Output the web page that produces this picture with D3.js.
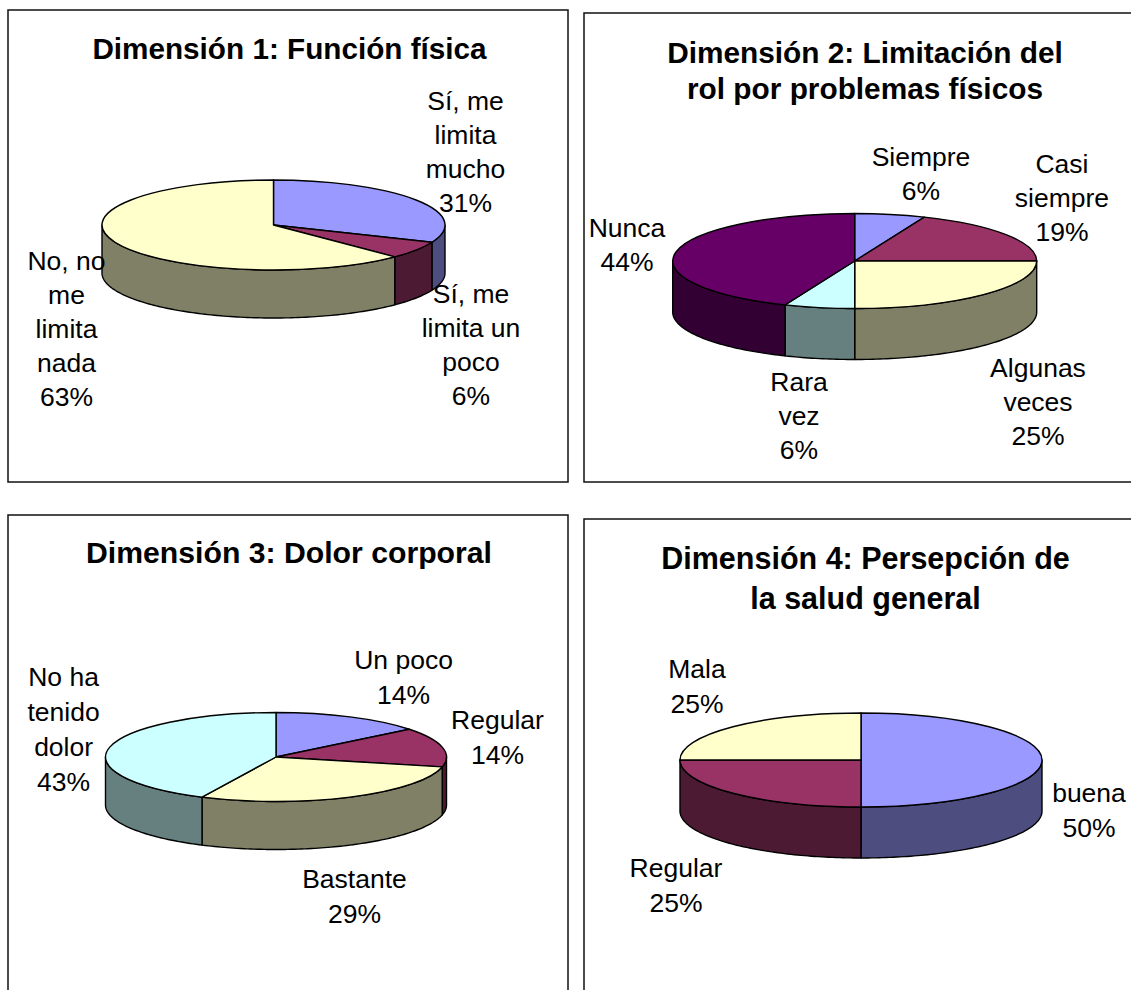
<!DOCTYPE html>
<html>
<head>
<meta charset="utf-8">
<script src="https://cdn.jsdelivr.net/npm/d3@7"></script>
<style>
  html, body { margin: 0; padding: 0; background: #fff; overflow: hidden; }
  text { font-family: "Liberation Sans", Arial, sans-serif; fill: #000; }
</style>
</head>
<body>
<div id="my_dataviz"></div>
<script>
// chart data
const dim1Title = ["Dimensión 1: Función física"];
const dim1Categories = ["Sí, me\nlimita\nmucho", "Sí, me\nlimita un\npoco", "No, no\nme\nlimita\nnada"];
const dim1Values = [31.25, 6.25, 62.5];

const dim2Title = ["Dimensión 2: Limitación del", "rol por problemas físicos"];
const dim2Categories = ["Siempre", "Casi\nsiempre", "Algunas\nveces", "Rara\nvez", "Nunca"];
const dim2Values = [6.25, 18.75, 25, 6.25, 43.75];

const dim3Title = ["Dimensión 3: Dolor corporal"];
const dim3Categories = ["Un poco", "Regular", "Bastante", "No ha\ntenido\ndolor"];
const dim3Values = [14.29, 14.29, 28.57, 42.86];

const dim4Title = ["Dimensión 4: Persepción de", "la salud general"];
const dim4Categories = ["buena", "Regular", "Mala"];
const dim4Values = [50, 25, 25];

// excel's default pie colours, the walls are the same colours at half brightness
const topColors = ["#9999ff", "#993366", "#ffffcc", "#ccffff", "#660066"];
const sideColors = ["#4d4d80", "#4d1a33", "#808066", "#668080", "#330033"];

// where everything goes on the page
const panels = [
  { title: dim1Title, cats: dim1Categories, vals: dim1Values,
    box: [8, 10, 568, 482], titleX: 289.5, titleY: [59], titleSize: 29.7,
    cx: 273.5, cy: 225, rx: 171.5, ry: 45, depth: 48,
    labelX: [465.5, 471, 66.5], labelY: [110, 303, 270], lineH: 34 },
  { title: dim2Title, cats: dim2Categories, vals: dim2Values,
    box: [584, 13, 1140, 482], titleX: 865, titleY: [62.5, 99], titleSize: 29.8,
    cx: 854.7, cy: 261, rx: 182, ry: 47.5, depth: 51,
    labelX: [921, 1062, 1038, 799, 627], labelY: [166, 173, 377, 391, 237], lineH: 34 },
  { title: dim3Title, cats: dim3Categories, vals: dim3Values,
    box: [8, 515, 568, 1000], titleX: 289, titleY: [563], titleSize: 30.2,
    cx: 276, cy: 757, rx: 170.5, ry: 44.5, depth: 48,
    labelX: [403.6, 497.5, 354.5, 63.6], labelY: [669, 729, 888, 686], lineH: 35 },
  { title: dim4Title, cats: dim4Categories, vals: dim4Values,
    box: [584, 519, 1140, 1000], titleX: 865.5, titleY: [569, 609], titleSize: 30.5,
    cx: 861, cy: 760, rx: 181, ry: 47, depth: 51,
    labelX: [1089, 676, 697], labelY: [802, 877, 678], lineH: 35 }
];

const width = 1131, height = 990;
const labelSize = 26.5;

let svg = d3.select("#my_dataviz")
    .append("svg")
    .attr("width", width)
    .attr("height", height);

const pie = d3.pie().sort(null).value(d => d);

panels.forEach(function(p) {
  let g = svg.append("g");

  // frame
  g.append("rect")
    .attr("x", p.box[0]).attr("y", p.box[1])
    .attr("width", p.box[2] - p.box[0]).attr("height", p.box[3] - p.box[1])
    .attr("fill", "#fff").attr("stroke", "#111").attr("stroke-width", 1.5);

  g.selectAll(".title")
    .data(p.title)
    .enter().append("text")
    .attr("class", "title")
    .attr("x", p.titleX)
    .attr("y", (d, i) => p.titleY[i])
    .attr("text-anchor", "middle")
    .attr("font-size", p.titleSize)
    .attr("font-weight", "bold")
    .text(d => d);

  let arcs = pie(p.vals);

  // walls: only the part of each slice facing the viewer (90 to 270 degrees)
  let wallLine = d3.line();
  function wall(d) {
    let a0 = Math.max(d.startAngle, Math.PI / 2);
    let a1 = Math.min(d.endAngle, Math.PI * 3 / 2);
    let n = Math.max(2, Math.ceil((a1 - a0) / 0.02));
    let angles = d3.range(n + 1).map(i => a0 + (a1 - a0) * i / n);
    let upper = angles.map(a => [p.cx + p.rx * Math.sin(a), p.cy - p.ry * Math.cos(a)]);
    let lower = upper.slice().reverse().map(c => [c[0], c[1] + p.depth]);
    return wallLine(upper.concat(lower)) + "Z";
  }

  g.selectAll(".wall")
    .data(arcs.filter(d => d.endAngle > Math.PI / 2 && d.startAngle < Math.PI * 3 / 2))
    .enter().append("path")
    .attr("class", "wall")
    .attr("d", wall)
    .attr("fill", d => sideColors[d.index])
    .attr("stroke", "#000")
    .attr("stroke-width", 1.4)
    .attr("stroke-linejoin", "round");

  // top face: a normal d3 arc squashed into an ellipse
  let arc = d3.arc().innerRadius(0).outerRadius(p.rx);
  g.append("g")
    .attr("transform", "translate(" + p.cx + "," + p.cy + ") scale(1," + (p.ry / p.rx) + ")")
    .selectAll("path")
    .data(arcs)
    .enter().append("path")
    .attr("d", arc)
    .attr("fill", d => topColors[d.index])
    .attr("stroke", "#000")
    .attr("stroke-width", 1.4)
    .attr("vector-effect", "non-scaling-stroke")
    .attr("stroke-linejoin", "round");

  // labels, last line is the rounded percent
  let labels = g.selectAll(".label")
    .data(arcs)
    .enter().append("text")
    .attr("class", "label")
    .attr("text-anchor", "middle")
    .attr("font-size", labelSize);

  labels.selectAll("tspan")
    .data(d => p.cats[d.index].split("\n").concat(Math.round(d.value) + "%")
      .map((t, i) => ({ t: t, i: i, idx: d.index })))
    .enter().append("tspan")
    .attr("x", d => p.labelX[d.idx])
    .attr("y", d => p.labelY[d.idx] + d.i * p.lineH)
    .text(d => d.t);
});
</script>
</body>
</html>
